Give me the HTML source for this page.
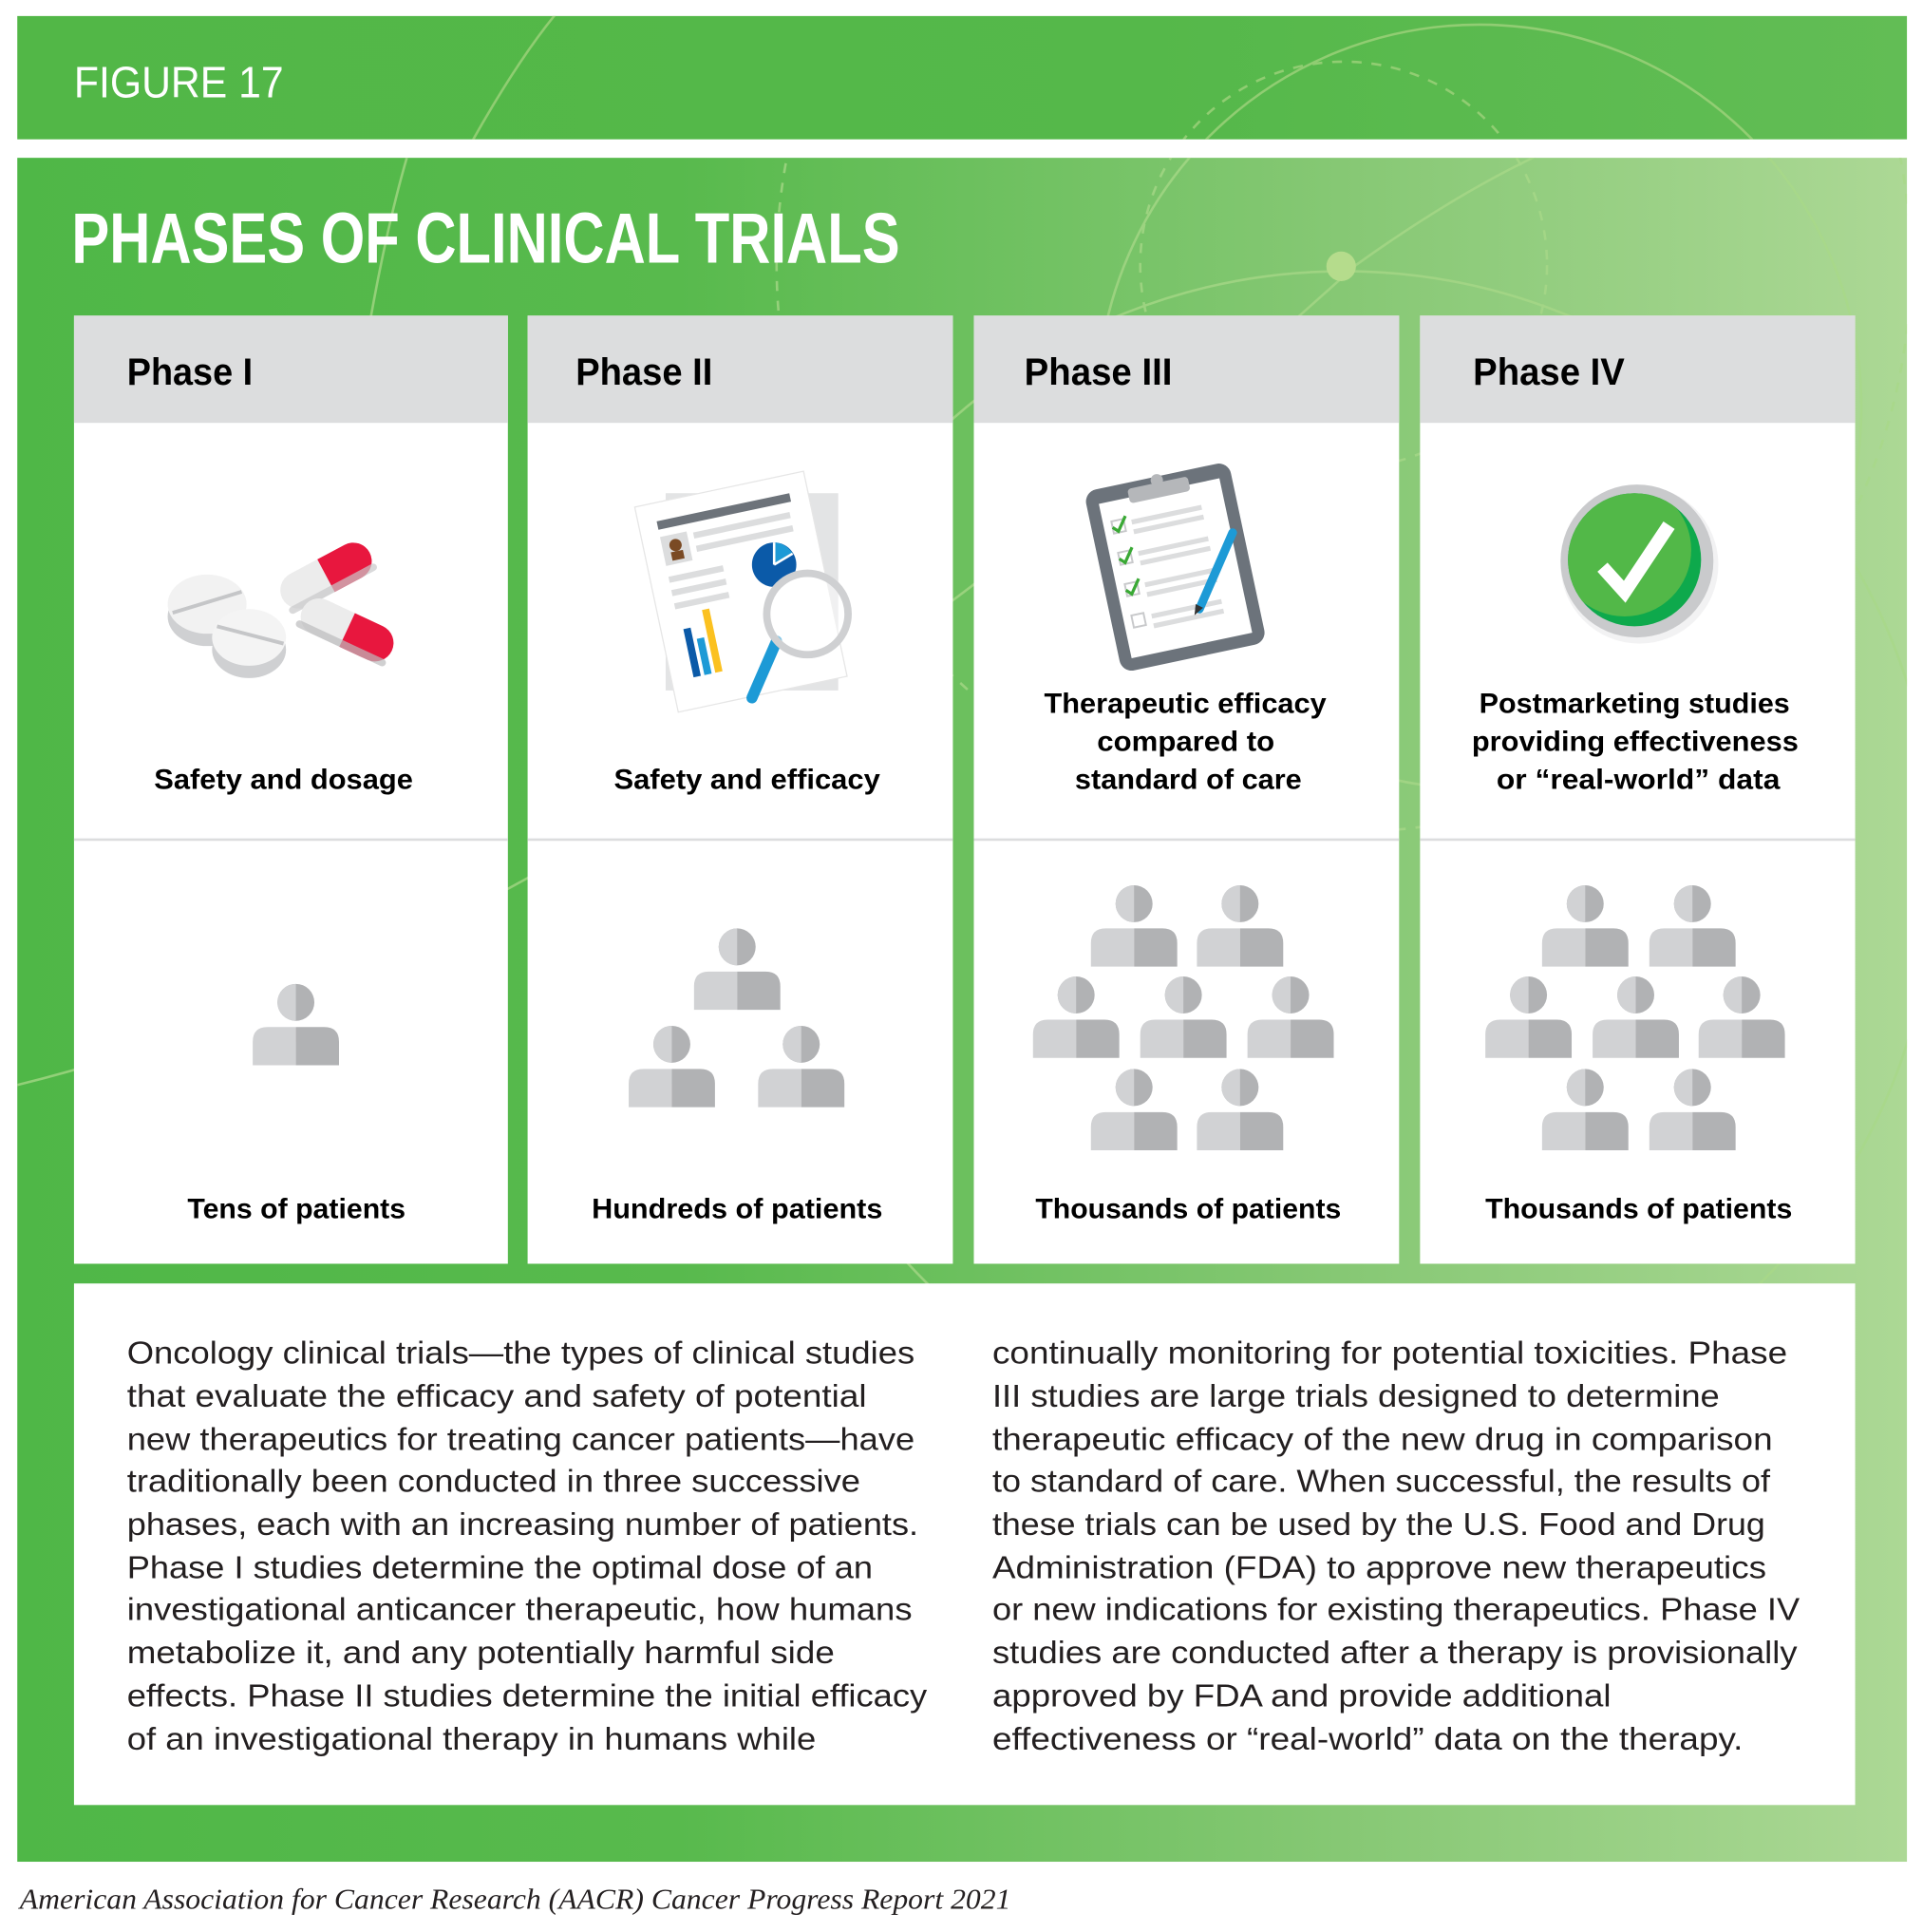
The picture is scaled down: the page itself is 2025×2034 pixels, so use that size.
<!DOCTYPE html>
<html><head><meta charset="utf-8"><style>
html,body{margin:0;padding:0;background:#fff}
svg{display:block}
.h{font-family:"Liberation Sans",sans-serif;font-weight:bold;fill:#000}
.b{font-family:"Liberation Sans",sans-serif;font-size:26px;fill:#231f20}
</style></head><body>
<svg width="2025" height="2034" viewBox="0 0 1560 1567" xmlns="http://www.w3.org/2000/svg">
<defs>
<linearGradient id="bg" x1="0" y1="0" x2="1" y2="0">
<stop offset="0" stop-color="#4fb747"/><stop offset="0.35" stop-color="#58ba4d"/><stop offset="0.7" stop-color="#86c874"/><stop offset="1" stop-color="#acd895"/></linearGradient>
<linearGradient id="tb" x1="0" y1="0" x2="1" y2="0">
<stop offset="0" stop-color="#52b747"/><stop offset="0.6" stop-color="#55b84a"/><stop offset="1" stop-color="#62bd55"/></linearGradient>
<clipPath id="c1"><rect x="14" y="13" width="1533" height="100"/></clipPath>
<clipPath id="c2"><rect x="14" y="128" width="1533" height="1382"/></clipPath>
<clipPath id="cc"><circle cx="1326" cy="454" r="54"/></clipPath>
<g id="p">
<circle cx="0" cy="0" r="15" fill="#b1b2b4"/>
<path d="M0,-15 A15,15 0 0 0 0,15 Z" fill="#d1d2d4"/>
<path d="M-35,51 V32 Q-35,20 -23,20 H0 V51 Z" fill="#d1d2d4"/>
<path d="M35,51 V32 Q35,20 23,20 H0 V51 Z" fill="#b1b2b4"/>
</g>
</defs>
<rect x="14" y="13" width="1533" height="100" fill="url(#tb)"/>
<rect x="14" y="128" width="1533" height="1382" fill="url(#bg)"/>
<g clip-path="url(#c1)" fill="none" stroke="#9fd27c" stroke-width="2" opacity="0.8">
<path d="M380,120 Q430,30 470,-10"/>
<circle cx="1090" cy="215" r="165" stroke-dasharray="8,8"/>
<circle cx="1200" cy="330" r="310"/>
</g>
<g clip-path="url(#c2)" fill="none" stroke="#a8d888" stroke-width="2" opacity="0.75">
<path d="M330,128 Q280,300 250,700"/>
<circle cx="1090" cy="215" r="165" stroke-dasharray="8,8"/>
<circle cx="1200" cy="330" r="310"/>
<circle cx="1090" cy="700" r="480"/>
<circle cx="1090" cy="215" r="460" stroke-dasharray="8,8"/>
<path d="M14,880 Q500,760 1100,215 Q1400,0 1560,130"/>
</g>
<circle cx="1088" cy="216" r="12" fill="#b5dc8c"/>
<text x="60" y="79" font-family="Liberation Sans,sans-serif" font-size="36" fill="#fff" textLength="170" lengthAdjust="spacingAndGlyphs">FIGURE 17</text>
<text x="58" y="213" font-family="Liberation Sans,sans-serif" font-weight="bold" font-size="58" fill="#fff" textLength="672" lengthAdjust="spacingAndGlyphs">PHASES OF CLINICAL TRIALS</text>

<g>
<rect x="60" y="256" width="352" height="769" fill="#fff"/>
<rect x="428" y="256" width="345" height="769" fill="#fff"/>
<rect x="790" y="256" width="345" height="769" fill="#fff"/>
<rect x="1152" y="256" width="353" height="769" fill="#fff"/>
<g fill="#dcddde">
<rect x="60" y="256" width="352" height="87"/><rect x="428" y="256" width="345" height="87"/>
<rect x="790" y="256" width="345" height="87"/><rect x="1152" y="256" width="353" height="87"/></g>
<g fill="#dcddde"><rect x="60" y="680" width="352" height="2"/><rect x="428" y="680" width="345" height="2"/>
<rect x="790" y="680" width="345" height="2"/><rect x="1152" y="680" width="353" height="2"/></g>
</g>
<g class="h" font-size="31">
<text x="103" y="312" textLength="102" lengthAdjust="spacingAndGlyphs">Phase I</text>
<text x="467" y="312" textLength="111" lengthAdjust="spacingAndGlyphs">Phase II</text>
<text x="831" y="312" textLength="120" lengthAdjust="spacingAndGlyphs">Phase III</text>
<text x="1195" y="312" textLength="123" lengthAdjust="spacingAndGlyphs">Phase IV</text>
</g>
<g class="h" font-size="23">
<text x="125" y="640" textLength="210" lengthAdjust="spacingAndGlyphs">Safety and dosage</text>
<text x="498" y="640" textLength="216" lengthAdjust="spacingAndGlyphs">Safety and efficacy</text>
<text x="847" y="578" textLength="229" lengthAdjust="spacingAndGlyphs">Therapeutic efficacy</text>
<text x="890" y="609" textLength="144" lengthAdjust="spacingAndGlyphs">compared to</text>
<text x="872" y="640" textLength="184" lengthAdjust="spacingAndGlyphs">standard of care</text>
<text x="1200" y="578" textLength="252" lengthAdjust="spacingAndGlyphs">Postmarketing studies</text>
<text x="1194" y="609" textLength="265" lengthAdjust="spacingAndGlyphs">providing effectiveness</text>
<text x="1214" y="640" textLength="230" lengthAdjust="spacingAndGlyphs">or “real-world” data</text>
<text x="152" y="988" textLength="177" lengthAdjust="spacingAndGlyphs">Tens of patients</text>
<text x="480" y="988" textLength="236" lengthAdjust="spacingAndGlyphs">Hundreds of patients</text>
<text x="840" y="988" textLength="248" lengthAdjust="spacingAndGlyphs">Thousands of patients</text>
<text x="1205" y="988" textLength="249" lengthAdjust="spacingAndGlyphs">Thousands of patients</text>
</g>
<use href="#p" x="240" y="813"/>
<use href="#p" x="598" y="768"/><use href="#p" x="545" y="847"/><use href="#p" x="650" y="847"/>
<use href="#p" x="920" y="733"/><use href="#p" x="1006" y="733"/>
<use href="#p" x="873" y="807"/><use href="#p" x="960" y="807"/><use href="#p" x="1047" y="807"/>
<use href="#p" x="920" y="882"/><use href="#p" x="1006" y="882"/>
<use href="#p" x="1286" y="733"/><use href="#p" x="1373" y="733"/>
<use href="#p" x="1240" y="807"/><use href="#p" x="1327" y="807"/><use href="#p" x="1413" y="807"/>
<use href="#p" x="1286" y="882"/><use href="#p" x="1373" y="882"/>

<g>
<ellipse cx="168" cy="500" rx="32" ry="24" fill="#cfd0d2"/>
<ellipse cx="168" cy="490" rx="32" ry="24" fill="#f2f2f2"/>
<line x1="140" y1="497" x2="196" y2="480" stroke="#c5c6c8" stroke-width="3"/>
<ellipse cx="202" cy="527" rx="30" ry="23" fill="#cfd0d2"/>
<ellipse cx="202" cy="517" rx="30" ry="23" fill="#f4f4f4"/>
<line x1="176" y1="508" x2="230" y2="522" stroke="#c5c6c8" stroke-width="3"/>
<g transform="rotate(-28 264 466)"><rect x="224" y="452" width="80" height="30" rx="15" fill="#ececec"/><path d="M264,452 H289 A15,15 0 0 1 289,482 H264 Z" fill="#e8173e"/><rect x="224" y="476" width="80" height="6" rx="3" fill="#c9c9cb" opacity=".7"/></g>
<g transform="rotate(25 282 510)"><rect x="242" y="496" width="80" height="30" rx="15" fill="#ececec"/><path d="M282,496 H307 A15,15 0 0 1 307,526 H282 Z" fill="#e8173e"/><rect x="242" y="520" width="80" height="6" rx="3" fill="#bcbcbe" opacity=".7"/></g>
</g>
<g>
<rect x="540" y="400" width="140" height="160" fill="#e3e4e5"/>
<g transform="rotate(-12 600 475)">
<rect x="530" y="395" width="140" height="170" fill="#fff" stroke="#e6e6e6"/>
<rect x="545" y="410" width="110" height="7" fill="#6d737a"/>
<rect x="545" y="423" width="22" height="24" fill="#dcddde"/>
<circle cx="556" cy="432" r="5" fill="#7a4a24"/><rect x="551" y="437" width="10" height="7" fill="#7a4a24"/>
<rect x="572" y="425" width="80" height="5" fill="#dcddde"/><rect x="572" y="436" width="80" height="5" fill="#dcddde"/>
<rect x="545" y="456" width="45" height="5" fill="#dcddde"/><rect x="545" y="467" width="45" height="5" fill="#dcddde"/><rect x="545" y="478" width="45" height="5" fill="#dcddde"/>
<rect x="548" y="500" width="6" height="40" fill="#0b5aa8"/><rect x="557" y="510" width="6" height="30" fill="#1d9ad6"/><rect x="566" y="488" width="6" height="52" fill="#fbc120"/>
</g>
<circle cx="628" cy="458" r="18" fill="#0b5aa8"/>
<path d="M628,458 L628,440 A18,18 0 0 1 643,449 Z" fill="#1d9ad6"/>
<line x1="628" y1="458" x2="628" y2="440" stroke="#fff" stroke-width="2"/>
<line x1="628" y1="458" x2="643" y2="449" stroke="#fff" stroke-width="2"/>
<line x1="630" y1="520" x2="610" y2="566" stroke="#1d9ad6" stroke-width="9" stroke-linecap="round"/>
<circle cx="655" cy="498" r="33" fill="#fff" fill-opacity=".45" stroke="#cfd0d2" stroke-width="6"/>
</g>
<g transform="rotate(-12 953 458)">
<rect x="893" y="385" width="120" height="150" rx="10" fill="#6c737b"/>
<rect x="903" y="397" width="100" height="128" fill="#fff"/>
<rect x="928" y="390" width="50" height="12" rx="3" fill="#b5b7ba"/>
<circle cx="953" cy="388" r="5" fill="#b5b7ba"/>
<g fill="#dcddde"><rect x="926" y="415" width="58" height="4"/><rect x="926" y="423" width="58" height="4"/><rect x="926" y="441" width="58" height="4"/><rect x="926" y="449" width="58" height="4"/><rect x="926" y="467" width="58" height="4"/><rect x="926" y="475" width="58" height="4"/><rect x="926" y="493" width="58" height="4"/><rect x="926" y="501" width="58" height="4"/></g>
<g fill="none" stroke="#c8c9cb" stroke-width="1.5"><rect x="910" y="413" width="10" height="10"/><rect x="910" y="439" width="10" height="10"/><rect x="910" y="465" width="10" height="10"/><rect x="910" y="491" width="10" height="10"/></g>
<g fill="none" stroke="#3aa935" stroke-width="2.5"><path d="M910,418 l4,4 l8,-11"/><path d="M910,444 l4,4 l8,-11"/><path d="M910,470 l4,4 l8,-11"/></g>
</g>
<line x1="1000" y1="432" x2="973" y2="494" stroke="#1d9ad6" stroke-width="7" stroke-linecap="round"/>
<path d="M970,490 l6,3 l-7,6 z" fill="#333"/>
<g>
<circle cx="1330" cy="458" r="64" fill="#e9eaeb" opacity=".6"/>
<circle cx="1328" cy="455" r="62" fill="#c9cacc"/>
<circle cx="1326" cy="454" r="54" fill="#0ea94c"/>
<circle cx="1318" cy="446" r="54" fill="#52b848" clip-path="url(#cc)"/>
<path d="M1300,460 L1318,480 L1354,426" fill="none" stroke="#fff" stroke-width="11"/>
</g>

<rect x="60" y="1041" width="1445" height="423" fill="#fff"/>
<g class="b">
<text x="103" y="1106" textLength="639" lengthAdjust="spacingAndGlyphs">Oncology clinical trials—the types of clinical studies</text>
<text x="103" y="1141" textLength="600" lengthAdjust="spacingAndGlyphs">that evaluate the efficacy and safety of potential</text>
<text x="103" y="1176" textLength="639" lengthAdjust="spacingAndGlyphs">new therapeutics for treating cancer patients—have</text>
<text x="103" y="1210" textLength="595" lengthAdjust="spacingAndGlyphs">traditionally been conducted in three successive</text>
<text x="103" y="1245" textLength="642" lengthAdjust="spacingAndGlyphs">phases, each with an increasing number of patients.</text>
<text x="103" y="1280" textLength="605" lengthAdjust="spacingAndGlyphs">Phase I studies determine the optimal dose of an</text>
<text x="103" y="1314" textLength="637" lengthAdjust="spacingAndGlyphs">investigational anticancer therapeutic, how humans</text>
<text x="103" y="1349" textLength="574" lengthAdjust="spacingAndGlyphs">metabolize it, and any potentially harmful side</text>
<text x="103" y="1384" textLength="649" lengthAdjust="spacingAndGlyphs">effects. Phase II studies determine the initial efficacy</text>
<text x="103" y="1419" textLength="559" lengthAdjust="spacingAndGlyphs">of an investigational therapy in humans while</text>
<text x="805" y="1106" textLength="645" lengthAdjust="spacingAndGlyphs">continually monitoring for potential toxicities. Phase</text>
<text x="805" y="1141" textLength="590" lengthAdjust="spacingAndGlyphs">III studies are large trials designed to determine</text>
<text x="805" y="1176" textLength="633" lengthAdjust="spacingAndGlyphs">therapeutic efficacy of the new drug in comparison</text>
<text x="805" y="1210" textLength="631" lengthAdjust="spacingAndGlyphs">to standard of care. When successful, the results of</text>
<text x="805" y="1245" textLength="627" lengthAdjust="spacingAndGlyphs">these trials can be used by the U.S. Food and Drug</text>
<text x="805" y="1280" textLength="628" lengthAdjust="spacingAndGlyphs">Administration (FDA) to approve new therapeutics</text>
<text x="805" y="1314" textLength="655" lengthAdjust="spacingAndGlyphs">or new indications for existing therapeutics. Phase IV</text>
<text x="805" y="1349" textLength="653" lengthAdjust="spacingAndGlyphs">studies are conducted after a therapy is provisionally</text>
<text x="805" y="1384" textLength="502" lengthAdjust="spacingAndGlyphs">approved by FDA and provide additional</text>
<text x="805" y="1419" textLength="609" lengthAdjust="spacingAndGlyphs">effectiveness or “real-world” data on the therapy.</text>
</g>
<text x="16" y="1548" font-family="Liberation Serif,serif" font-style="italic" font-size="24" fill="#231f20" textLength="804" lengthAdjust="spacingAndGlyphs">American Association for Cancer Research (AACR) Cancer Progress Report 2021</text>
</svg>
</body></html>
